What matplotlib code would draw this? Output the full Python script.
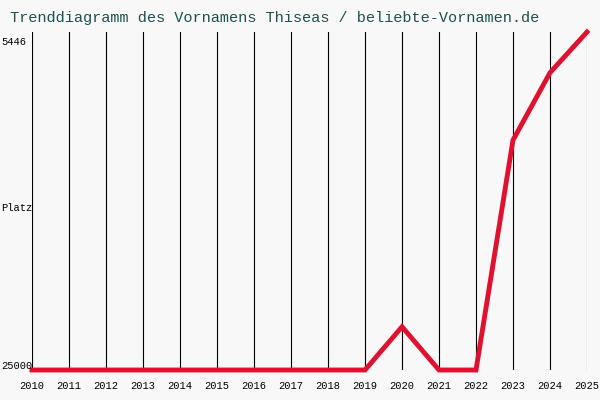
import matplotlib
matplotlib.use("Agg")
import matplotlib.pyplot as plt

years = list(range(2010, 2026))
ranks = [25000] * 10 + [22500, 25000, 25000, 11700, 7800, 5446]
y_top = 5446
y_bottom = 25000

plt.rcParams["font.family"] = ["Liberation Mono", "DejaVu Sans Mono"]

fig = plt.figure(figsize=(6, 4), dpi=100, facecolor="#f8f8f8")
ax = fig.add_axes([32 / 600, 30 / 400, 555 / 600, 338 / 400])
ax.set_facecolor("#f8f8f8")

for yr in years:
    ax.axvline(yr, color="black", lw=0.8, zorder=1)

ax.plot(years, ranks, color="#e0102f", lw=3.5, solid_joinstyle="miter", zorder=3, clip_on=False)

ax.set_xlim(years[0], years[-1])
ax.set_ylim(y_bottom, y_top)
for s in ax.spines.values():
    s.set_visible(False)
ax.set_xticks(years)
ax.set_xticklabels([str(y) for y in years], fontsize=7.5)
ax.tick_params(axis="x", length=0, pad=8)
ax.set_yticks([])

fig.text(1 / 600, 1 - 42 / 400, "5446", ha="left", va="center", fontsize=7.5)
fig.text(1 / 600, 1 - 208 / 400, "Platz", ha="left", va="center", fontsize=7.5)
fig.text(1 / 600, 1 - 366 / 400, "25000", ha="left", va="center", fontsize=7.5)

fig.text(10 / 600, 1 - 18 / 400, "Trenddiagramm des Vornamens Thiseas / beliebte-Vornamen.de",
         fontsize=11, color="#1f4f4f", ha="left", va="center")

fig.savefig("out.png", dpi=100, facecolor=fig.get_facecolor())
